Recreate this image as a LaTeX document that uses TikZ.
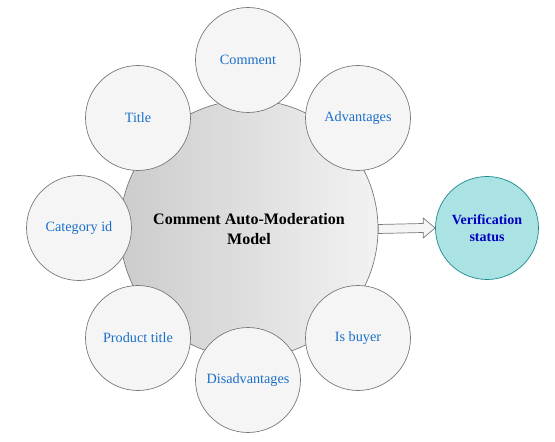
\documentclass[tikz,border=0pt]{standalone}
\usepackage{fontspec}
\setmainfont{Liberation Serif}
\usetikzlibrary{calc}
\definecolor{satfill}{HTML}{F5F5F5}
\definecolor{satline}{HTML}{7A7A7A}
\definecolor{sattext}{HTML}{1A6FC9}
\definecolor{cleft}{HTML}{CCCCCC}
\definecolor{cright}{HTML}{F2F2F2}
\definecolor{verfill}{HTML}{ABE3E4}
\definecolor{verline}{HTML}{1A8A8E}
\definecolor{vertext}{HTML}{0000C0}
\begin{document}
\begin{tikzpicture}[x=1bp,y=-1bp,
  sat/.style={circle,draw=satline,fill=satfill,line width=0.7bp,minimum size=105bp,inner sep=0pt,
    text=sattext,font=\fontsize{14.2bp}{16bp}\selectfont,align=center},
  hub/.style={circle,draw=satline,line width=0.7bp,minimum size=258bp,inner sep=0pt,
    left color=cleft,right color=cright,align=center,font=\fontsize{16bp}{20bp}\selectfont\bfseries},
  outc/.style={circle,draw=verline,fill=verfill,line width=0.7bp,minimum size=103bp,inner sep=0pt,
    text=vertext,align=center,font=\fontsize{14bp}{17bp}\selectfont\bfseries},
  blockarrow/.style={draw=satline,fill=satfill,line width=0.7bp,line join=miter}]
\useasboundingbox (0,0) rectangle (555,442);
\node[hub] (hub) at (249,229) {Comment Auto-Moderation\\Model};
\node[sat] (comment) at (248,60) {Comment};
\node[sat] (adv) at (358,118) {Advantages};
\node[sat] (title) at (138,118) {Title};
\node[sat] (cat) at (79,228) {Category id};
\node[sat] (ptitle) at (138,338) {Product title};
\node[sat] (dis) at (248,380) {Disadvantages};
\node[sat] (buyer) at (358,338) {Is buyer};
\node[outc] (ver) at (487,228) {Verification\\status};
\coordinate (a0) at (hub.east);
\coordinate (a1) at (ver.west);
\draw[blockarrow] ($(a0)+(0,-4.5)$) -- ($(a1)+(-12,-4.5)$) -- ($(a1)+(-12,-10)$) -- (a1)
  -- ($(a1)+(-12,10)$) -- ($(a1)+(-12,4.5)$) -- ($(a0)+(0,4.5)$) -- cycle;
\end{tikzpicture}
\end{document}
